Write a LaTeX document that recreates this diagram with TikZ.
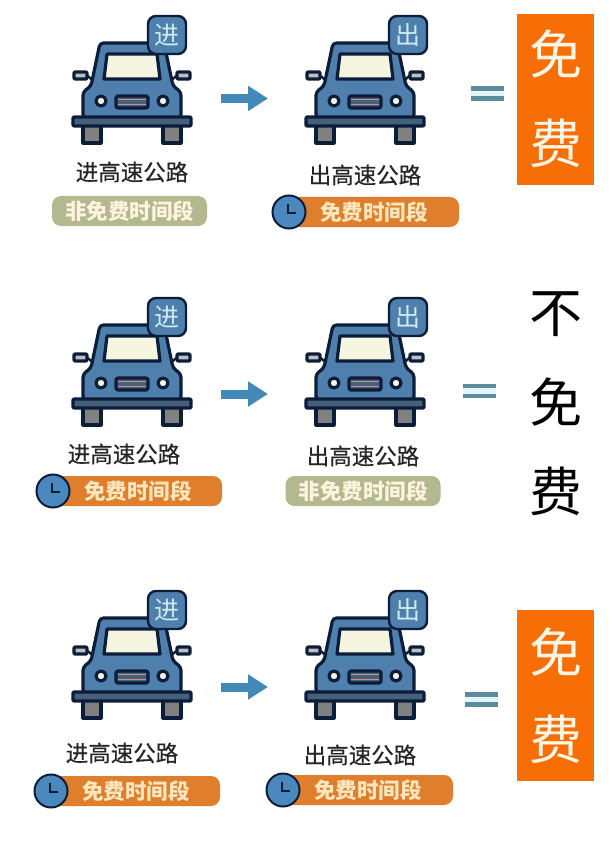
\documentclass[tikz,border=0pt]{standalone}
\usepackage{xcolor}
\usepackage{fontspec}
\setmainfont{Noto Sans CJK SC}
\newfontfamily\midfont[FakeBold=0.5]{Noto Sans CJK SC}
\usetikzlibrary{positioning,arrows.meta,calc}
\definecolor{carline}{HTML}{0C1D3A}
\definecolor{carblue}{HTML}{4F7FAD}
\definecolor{carbar}{HTML}{46607C}
\definecolor{carglass}{HTML}{F6F6E0}
\definecolor{carwheel}{HTML}{7F8180}
\definecolor{grillbar}{HTML}{C89488}
\definecolor{arrowblue}{HTML}{4389B8}
\definecolor{eqblue}{HTML}{5B8C9E}
\definecolor{eqglow}{HTML}{E2F5F8}
\definecolor{clockblue}{HTML}{4A88BE}
\definecolor{freeorange}{HTML}{F76E06}
\definecolor{pillorange}{HTML}{DF7F2E}
\definecolor{pillkhaki}{HTML}{B3B88F}
\definecolor{pilltext}{HTML}{FBE6BE}
\definecolor{badgetext}{HTML}{CDEBF0}
\tikzset{
  carpart/.style={draw=carline,line width=3.2pt,line join=round},
  badgebox/.style={draw=carline,line width=2.4pt,fill=carblue,rounded corners=8pt,minimum size=38pt,inner sep=0pt,text=badgetext,font=\fontsize{25}{25}\selectfont},
  roadlabel/.style={font=\midfont\fontsize{22.5}{23}\selectfont,text=black!85,inner sep=0pt},
  pillkh/.style={fill=pillkhaki,rounded corners=9pt,minimum height=30pt,inner sep=0pt,text=pilltext!50!white,font=\bfseries\fontsize{21.5}{22}\selectfont},
  pillor/.style={fill=pillorange,rounded corners=9pt,minimum height=30pt,inner sep=0pt},
  pilltxt/.style={text=pilltext,font=\bfseries\fontsize{21.5}{22}\selectfont,inner sep=0pt},
  clockdot/.style={circle,draw=carline,line width=2pt,fill=clockblue,minimum size=33pt,inner sep=0pt},
  freebox/.style={fill=freeorange,minimum width=77pt,inner sep=0pt},
  bigchar/.style={font=\fontsize{53}{54}\selectfont,inner sep=0pt},
  roadarrow/.style={-{Triangle[length=20pt,width=24pt]},arrowblue,line width=9pt},
  eqbar/.style={eqblue,line width=4.5pt},
  eqgap/.style={eqglow,line width=5.5pt},
}
% car with its corner badge
\newcommand{\drawcar}[5]{%
\begin{scope}[shift={(#1,#2)}]
% mirrors
\draw[carpart,line width=2.4pt] (-44,-24) -- (-38,-18);
\draw[carpart,line width=2.4pt] (44,-24) -- (38,-18);
\draw[carpart,fill=carwheel!50!white,rounded corners=1pt] (-58,-28) rectangle (-45,-21);
\draw[carpart,fill=carwheel!50!white,rounded corners=1pt] (45,-28) rectangle (58,-21);
% wheels
\draw[carpart,fill=carwheel] (-49,24) rectangle (-31,43);
\draw[carpart,fill=carwheel] (31,24) rectangle (49,43);
% body
\draw[carpart,fill=carblue,rounded corners=3.5pt] (-49,18) -- (-49,-8) -- (-41,-14) -- (-32,-57) -- (32,-57) -- (41,-14) -- (49,-8) -- (49,18) -- cycle;
\draw[carpart,fill=carglass] (-25,-46) -- (25,-46) -- (28,-21) -- (-28,-21) -- cycle;
% bumper
\draw[carpart,fill=carbar,rounded corners=1pt] (-59,17) rectangle (59,26);
% lights and grille
\draw[carpart,fill=carglass] (-31,1) circle (5);
\draw[carpart,fill=carglass] (31,1) circle (5);
\draw[carpart,fill=carbar,rounded corners=2pt] (-16,-4) rectangle (16,8);
\draw[line width=1.5pt,draw=grillbar] (-14,-0.5) -- (14,-0.5);
\draw[line width=1.5pt,draw=grillbar] (-14,4.5) -- (14,4.5);
\end{scope}
\node[badgebox] (#5) at (#3,#2-65) {#4};
}
% clock at the left of an orange pill
\newcommand{\drawclock}[3]{%
\node[clockdot] (#3) at (#1,#2) {};
\draw[carline,line width=2pt] ($(#3.center)+(-1,-8)$) -- ($(#3.center)+(-1,1)$) -- ($(#3.center)+(7,1)$);
}
% equal sign
\newcommand{\drawequal}[2]{%
\draw[eqgap] (#1,#2+5) -- (#1+33,#2+5);
\draw[eqbar] (#1,#2) -- (#1+33,#2) (#1,#2+10) -- (#1+33,#2+10);
}
\begin{document}
\begin{tikzpicture}[x=1pt,y=-1pt]
\useasboundingbox (0,0) rectangle (611,842);
\fill[white] (0,0) rectangle (611,842);

% Row one
\drawcar{132}{100}{167}{进}{badgeA}
\drawcar{365}{100}{408}{出}{badgeB}
\coordinate (arrowAs) at (221,98.5);
\coordinate (arrowAe) at (268,98.5);
\draw[roadarrow] (arrowAs) -- (arrowAe);
\drawequal{471}{88.5}
\node[roadlabel] (inA) at (132,172) {进高速公路};
\node[roadlabel] (outA) at (365,175) {出高速公路};
\node[pillkh,minimum width=155pt] (pillA) at (129.5,211) {非免费时间段};
\node[pillor,minimum width=170pt] (pillB) at (374,212) {};
\drawclock{289}{212}{clockB}
\node[pilltxt] at (374,212) {免费时间段};
\node[freebox,minimum height=171pt] (freeA) at (555.5,99.5) {};
\node[bigchar,text=pilltext!40!white] (freeAa) at (556,54) {免};
\node[bigchar,text=pilltext!40!white] (freeAb) at (556,143) {费};

% Row two
\drawcar{132}{382}{167}{进}{badgeC}
\drawcar{365}{382}{408}{出}{badgeD}
\coordinate (arrowBs) at (221,394);
\coordinate (arrowBe) at (268,394);
\draw[roadarrow] (arrowBs) -- (arrowBe);
\drawequal{463}{386}
\node[roadlabel] (inC) at (124,454) {进高速公路};
\node[roadlabel] (outC) at (363,456) {出高速公路};
\node[pillor,minimum width=170pt] (pillC) at (137,491) {};
\drawclock{53}{491}{clockC}
\node[pilltxt] at (138,491) {免费时间段};
\node[pillkh,minimum width=155pt] (pillD) at (363,491) {非免费时间段};
\node[bigchar] (notA) at (556,314) {不};
\node[bigchar] (notB) at (556,402) {免};
\node[bigchar] (notC) at (556,491) {费};

% Row three
\drawcar{132}{675}{167}{进}{badgeE}
\drawcar{365}{675}{408}{出}{badgeF}
\coordinate (arrowCs) at (221,687);
\coordinate (arrowCe) at (268,687);
\draw[roadarrow] (arrowCs) -- (arrowCe);
\drawequal{465}{694.5}
\node[roadlabel] (inE) at (122,753) {进高速公路};
\node[roadlabel] (outE) at (360,755) {出高速公路};
\node[pillor,minimum width=170pt] (pillE) at (135,791) {};
\drawclock{51}{791}{clockE}
\node[pilltxt] at (136,791) {免费时间段};
\node[pillor,minimum width=170pt] (pillF) at (368,790) {};
\drawclock{283}{790}{clockF}
\node[pilltxt] at (368,790) {免费时间段};
\node[freebox,minimum height=171pt] (freeE) at (555.5,695.5) {};
\node[bigchar,text=pilltext!40!white] (freeEa) at (556,652) {免};
\node[bigchar,text=pilltext!40!white] (freeEb) at (556,739) {费};
\end{tikzpicture}
\end{document}
